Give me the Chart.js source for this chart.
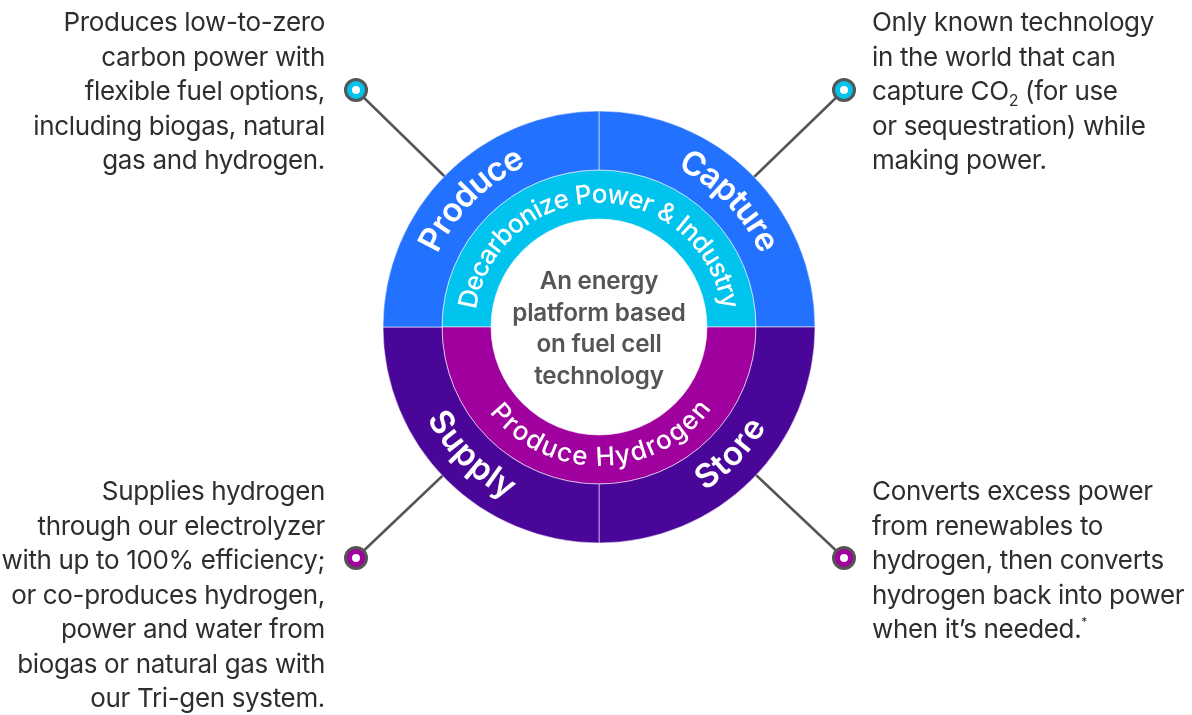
<!DOCTYPE html>
<html>
<head>
<meta charset="utf-8">
<script src="https://cdn.jsdelivr.net/npm/chart.js@4.4.0/dist/chart.umd.min.js"></script>
<style>
  html, body { margin: 0; padding: 0; background: #fff; }
  #wrap { position: relative; width: 1192px; height: 715px; overflow: hidden; font-family: Inter, "Noto Sans", sans-serif; }
  #wrap canvas { position: absolute; left: 0; top: 0; }
  .note { position: absolute; font-size: 26px; line-height: 34.5px; color: #2e2e2e; letter-spacing: -0.35px; white-space: nowrap; }
  .note.left { text-align: right; right: 867px; }
  .note.right { text-align: left; left: 872px; }
  .note sub { font-size: 16px; vertical-align: -6px; line-height: 0; }
  .note sup { font-size: 12px; vertical-align: 12px; line-height: 0; }
  #centre { position: absolute; left: 489px; width: 220px; top: 265px; text-align: center; font-weight: 600; font-size: 24.2px; line-height: 31.5px; color: #555; letter-spacing: -0.2px; }
</style>
</head>
<body>
<div id="wrap">
  <canvas id="platformChart"></canvas>
  <div class="note left" style="top:5px">Produces low-to-zero<br>carbon power with<br>flexible fuel options,<br>including biogas, natural<br>gas and hydrogen.</div>
  <div class="note right" style="top:5px">Only known technology<br>in the world that can<br>capture CO<sub>2</sub> (for use<br>or sequestration) while<br>making power.</div>
  <div class="note left" style="top:474px">Supplies hydrogen<br>through our electrolyzer<br>with up to 100% efficiency;<br>or co-produces hydrogen,<br>power and water from<br>biogas or natural gas with<br>our Tri-gen system.</div>
  <div class="note right" style="top:474px">Converts excess power<br>from renewables to<br>hydrogen, then converts<br>hydrogen back into power<br>when it’s needed.<sup>*</sup></div>
  <div id="centre">An energy<br>platform based<br>on fuel cell<br>technology</div>
</div>
<script>
// outer ring, clockwise from 12 o'clock
const outerLabels = ['Capture', 'Store', 'Supply', 'Produce'];
const outerValues = [25, 25, 25, 25];
// inner ring, clockwise from 9 o'clock
const innerLabels = ['Decarbonize Power & Industry', 'Produce Hydrogen'];
const innerValues = [50, 50];

const BLUE = '#2271ff';
const PURPLE = '#4a0699';
const CYAN = '#00c4ed';
const MAGENTA = '#a0009d';

// curved label settings: mid angle (deg, canvas coords), radius, top = reads clockwise
const outerText = {
    Capture: { mid: -44, r: 187, top: true },
    Store: { mid: 44, r: 185, top: false },
    Supply: { mid: 135, r: 185, top: false },
    Produce: { mid: -135, r: 187, top: true }
};
const innerText = {
    'Decarbonize Power & Industry': { mid: -90, r: 132, top: true },
    'Produce Hydrogen': { mid: 89, r: 131, top: false }
};

// leader line end points, offset from ring centre
const markers = [
    { dx: -243, dy: -237, color: CYAN },
    { dx: 245, dy: -237, color: CYAN },
    { dx: -243, dy: 231, color: MAGENTA },
    { dx: 245, dy: 231, color: MAGENTA }
];

function arcText(ctx, text, cx, cy, r, mid, top, spacing) {
    const chars = [...text];
    const widths = chars.map(ch => ctx.measureText(ch).width);
    const total = widths.reduce((a, b) => a + b, 0) + spacing * (chars.length - 1);
    const span = total / r;
    let acc = 0;
    chars.forEach((ch, i) => {
        const off = (acc + widths[i] / 2) / r - span / 2;
        const a = top ? mid + off : mid - off;
        ctx.save();
        ctx.translate(cx + r * Math.cos(a), cy + r * Math.sin(a));
        ctx.rotate(top ? a + Math.PI / 2 : a - Math.PI / 2);
        ctx.fillText(ch, 0, 0);
        ctx.restore();
        acc += widths[i] + spacing;
    });
}

const leaders = {
    id: 'leaders',
    beforeDatasetsDraw(chart) {
        const ctx = chart.ctx;
        const arc = chart.getDatasetMeta(0).data[0];
        const cx = arc.x, cy = arc.y;
        ctx.save();
        markers.forEach(m => {
            ctx.strokeStyle = '#555';
            ctx.lineWidth = 2.5;
            ctx.beginPath();
            ctx.moveTo(cx + m.dx, cy + m.dy);
            ctx.lineTo(cx + m.dx * 0.5, cy + m.dy * 0.5);
            ctx.stroke();
            ctx.beginPath();
            ctx.arc(cx + m.dx, cy + m.dy, 10.5, 0, Math.PI * 2);
            ctx.fillStyle = m.color;
            ctx.fill();
            ctx.lineWidth = 3;
            ctx.stroke();
            ctx.beginPath();
            ctx.arc(cx + m.dx, cy + m.dy, 4, 0, Math.PI * 2);
            ctx.fillStyle = '#fff';
            ctx.fill();
        });
        ctx.restore();
    }
};

const ringLabels = {
    id: 'ringLabels',
    afterDatasetsDraw(chart) {
        const ctx = chart.ctx;
        const arc = chart.getDatasetMeta(0).data[0];
        const cx = arc.x, cy = arc.y;
        const rad = Math.PI / 180;
        ctx.save();
        ctx.fillStyle = '#fff';
        ctx.textAlign = 'center';
        ctx.textBaseline = 'middle';
        ctx.font = '600 33px Inter, "Noto Sans", sans-serif';
        outerLabels.forEach(l => {
            const t = outerText[l];
            arcText(ctx, l, cx, cy, t.r, t.mid * rad, t.top, 0);
        });
        ctx.font = '500 26px Inter, "Noto Sans", sans-serif';
        innerLabels.forEach(l => {
            const t = innerText[l];
            arcText(ctx, l, cx, cy, t.r, t.mid * rad, t.top, l.length > 20 ? 0 : 0.6);
        });
        ctx.restore();
    }
};

const platformCtx = document.getElementById('platformChart').getContext('2d');
new Chart(platformCtx, {
    type: 'doughnut',
    data: {
        labels: outerLabels,
        datasets: [{
            label: 'Outer',
            data: outerValues,
            backgroundColor: [BLUE, PURPLE, PURPLE, BLUE],
            borderColor: 'rgba(255, 255, 255, 0.55)',
            borderWidth: 1,
            weight: 59
        }, {
            label: 'Inner',
            labels: innerLabels,
            data: innerValues,
            backgroundColor: [CYAN, MAGENTA],
            borderColor: 'rgba(255, 255, 255, 0.55)',
            borderWidth: 1,
            rotation: -90,
            weight: 49
        }]
    },
    options: {
        responsive: true,
        maintainAspectRatio: false,
        animation: false,
        cutout: '50%',
        radius: 216,
        layout: { padding: { left: 383, right: 377, top: 111, bottom: 172 } },
        plugins: {
            legend: { display: false },
            tooltip: { enabled: false }
        }
    },
    plugins: [leaders, ringLabels]
});
</script>
</body>
</html>
